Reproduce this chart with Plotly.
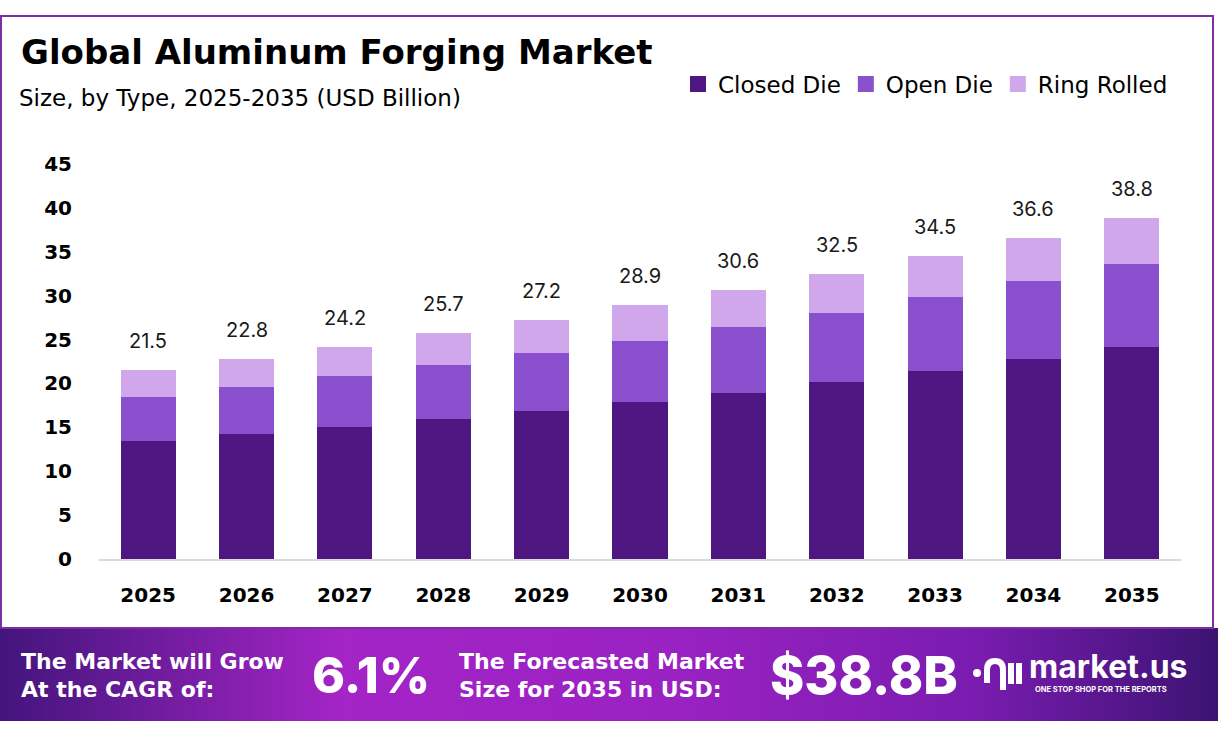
import base64
import plotly.graph_objects as go

years = ["2025", "2026", "2027", "2028", "2029", "2030", "2031", "2032", "2033", "2034", "2035"]
closed_die = [13.4, 14.2, 15.0, 15.9, 16.9, 17.9, 18.9, 20.2, 21.4, 22.8, 24.2]
open_die = [5.1, 5.4, 5.9, 6.2, 6.6, 6.9, 7.5, 7.8, 8.5, 8.9, 9.4]
ring_rolled = [3.0, 3.2, 3.3, 3.6, 3.7, 4.1, 4.2, 4.5, 4.6, 4.9, 5.2]
totals = [21.5, 22.8, 24.2, 25.7, 27.2, 28.9, 30.6, 32.5, 34.5, 36.6, 38.8]
y_ticks = [0, 5, 10, 15, 20, 25, 30, 35, 40, 45]

cagr = "6.1%"
forecast = "$38.8B"

W, H = 1218, 738
FONT = "Inter"
WIDE = "DejaVu Sans"


def px(x):
    return x / W


def py(y):
    return 1 - y / H


fig = go.Figure()
series = [
    ("Closed Die", closed_die, "#4e1681"),
    ("Open Die", open_die, "#8a4fcc"),
    ("Ring Rolled", ring_rolled, "#d1a7ec"),
]
for name, vals, col in series:
    fig.add_trace(go.Bar(x=years, y=vals, name=name, marker_color=col,
                         marker_line_width=0, width=0.56, showlegend=False))
# legend entries with bigger square swatches
for name, vals, col in series:
    fig.add_trace(go.Scatter(x=[None], y=[None], mode="markers", name=name,
                             marker=dict(symbol="square", size=17, color=col)))

# totals above the bars (x given as category index)
for i, t in enumerate(totals):
    fig.add_annotation(x=i, y=t, text=f"{t:.1f}", showarrow=False,
                       yanchor="bottom", yshift=15,
                       font=dict(family=FONT, size=20, color="#1a1a1a"))

# gradient banner as svg
svg = (
    '<svg xmlns="http://www.w3.org/2000/svg" width="1218" height="93" preserveAspectRatio="none">'
    '<defs><linearGradient id="g" x1="0" x2="1" y1="0" y2="0">'
    '<stop offset="0" stop-color="#43157c"/>'
    '<stop offset="0.28" stop-color="#a424c6"/>'
    '<stop offset="0.55" stop-color="#9a22c2"/>'
    '<stop offset="0.8" stop-color="#7a1cb0"/>'
    '<stop offset="1" stop-color="#3c1372"/>'
    '</linearGradient></defs>'
    '<rect width="1218" height="93" fill="url(#g)"/></svg>'
)
src = "data:image/svg+xml;base64," + base64.b64encode(svg.encode()).decode()
fig.add_layout_image(source=src, xref="paper", yref="paper", x=0, y=py(628),
                     sizex=1, sizey=(721 - 628) / H, sizing="stretch",
                     xanchor="left", yanchor="top", layer="below")

# frame
fig.add_shape(type="rect", xref="paper", yref="paper", x0=px(1), x1=px(1213),
              y0=py(628), y1=py(16), line=dict(color="#7b2fa3", width=2), layer="below")


def txt(x, y, s, size, weight=400, color="black", family=FONT):
    fig.add_annotation(x=px(x), y=py(y), xref="paper", yref="paper", text=s,
                       showarrow=False, xanchor="left", yanchor="middle",
                       font=dict(family=family, size=size, color=color, weight=weight))


txt(19, 52, "Global Aluminum Forging Market", 34, 700, family=WIDE)
txt(17, 98, "Size, by Type, 2025-2035 (USD Billion)", 23, 400, family=WIDE)

# banner texts
txt(19, 661, "The Market will Grow", 22, 700, "white", WIDE)
txt(19, 689, "At the CAGR of:", 22, 700, "white", WIDE)
txt(310, 675, cagr, 50, 800, "white")
txt(457, 661, "The Forecasted Market", 22, 700, "white", WIDE)
txt(457, 689, "Size for 2035 in USD:", 22, 700, "white", WIDE)
txt(768, 675, forecast, 52, 800, "white")
txt(1027, 666, "market.us", 32, 700, "white")
txt(1033, 689, "ONE STOP SHOP FOR THE REPORTS", 7.5, 700, "white")

# logo mark
fig.add_shape(type="circle", xref="paper", yref="paper", x0=px(973), x1=px(981),
              y0=py(677), y1=py(669), fillcolor="white", line_width=0)
fig.add_shape(type="path", xref="paper", yref="paper",
              path=f"M {px(987)},{py(683)} L {px(987)},{py(670)} "
                   f"Q {px(987)},{py(661)} {px(995)},{py(661)} "
                   f"Q {px(1003)},{py(661)} {px(1003)},{py(670)} L {px(1003)},{py(690)}",
              line=dict(color="white", width=6))
for lx in (1011, 1019):
    fig.add_shape(type="line", xref="paper", yref="paper", x0=px(lx), x1=px(lx),
                  y0=py(663), y1=py(684), line=dict(color="white", width=6))

fig.update_layout(
    width=W, height=H,
    barmode="stack",
    margin=dict(l=0, r=0, t=0, b=0, autoexpand=False),
    paper_bgcolor="white",
    plot_bgcolor="white",
    font=dict(family=FONT, color="black"),
    legend=dict(orientation="h", x=px(678), y=py(84), xanchor="left", yanchor="middle",
                font=dict(family=WIDE, size=23, color="black"), traceorder="normal",
                itemwidth=30, itemsizing="trace", bgcolor="rgba(0,0,0,0)"),
    xaxis=dict(type="category", domain=[px(99), px(1181)], showgrid=False, showline=True,
               linecolor="#d9d9d9", linewidth=2, ticks="", ticklabelstandoff=17,
               automargin=False,
               tickfont=dict(family=WIDE, size=20, weight=700, color="black")),
    yaxis=dict(domain=[py(559), py(164)], range=[0, 45], tickvals=y_ticks,
               showgrid=False, zeroline=False, showline=False, ticks="",
               ticklabelstandoff=26, automargin=False,
               tickfont=dict(family=WIDE, size=20, weight=700, color="black")),
)

fig.write_html("out.html", config={"displayModeBar": False},
               post_script="document.body.style.margin='0px';")
